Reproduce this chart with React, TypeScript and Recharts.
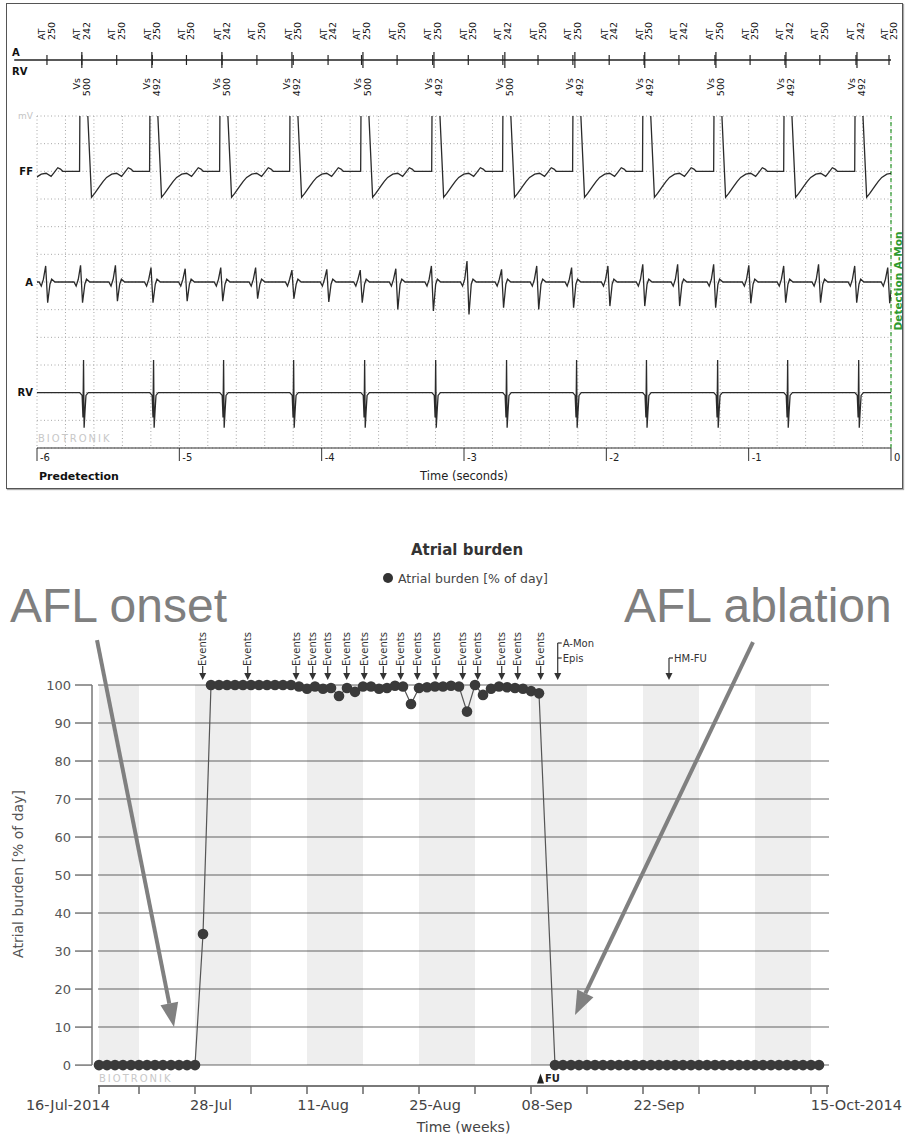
import React from 'react';
import {
  ComposedChart, Line, Scatter, XAxis, YAxis, CartesianGrid,
  ReferenceLine, ReferenceArea, ReferenceDot,
} from 'recharts';

const FONT = '"DejaVu Sans", Verdana, sans-serif';

// ---------------- ECG strip (seconds before detection) ----------------
const atrialEventTimes = [-5.93, -5.685, -5.44, -5.19, -4.95, -4.7, -4.455, -4.2, -3.955, -3.72, -3.47, -3.22, -2.97, -2.727, -2.48, -2.235, -1.98, -1.735, -1.49, -1.237, -0.99, -0.745, -0.5, -0.246, -0.014];
const atrialIntervals = [250, 242, 250, 250, 250, 242, 250, 250, 242, 250, 250, 250, 250, 242, 250, 250, 242, 250, 242, 250, 250, 242, 250, 242, 250];
// size of each atrial deflection on the A channel, grid divisions up / down
const atrialUp = [0.58, 0.6, 0.6, 0.52, 0.48, 0.52, 0.52, 0.43, 0.46, 0.43, 0.48, 0.58, 0.76, 0.46, 0.58, 0.52, 0.58, 0.64, 0.64, 0.64, 0.6, 0.58, 0.64, 0.58, 0.52];
const atrialDown = [0.75, 0.75, 0.69, 0.75, 0.69, 0.69, 0.6, 0.6, 0.72, 0.75, 0.99, 1.05, 1.17, 0.93, 0.99, 0.93, 0.87, 0.87, 0.87, 0.93, 0.77, 0.75, 0.75, 0.75, 0.77];

const ventricularEventTimes = [-5.685, -5.193, -4.701, -4.209, -3.71, -3.211, -2.713, -2.221, -1.73, -1.23, -0.738, -0.239];
const ventricularIntervals = [500, 492, 500, 492, 500, 492, 500, 492, 492, 500, 492, 492];
const beatBeforeStrip = -6.18;

// beat shapes: [seconds from event, divisions from channel baseline]
const ffShape = [[-0.03, 0], [-0.016, 0], [-0.013, 2.8], [0.035, 2.8], [0.068, -0.94], [0.09, -0.8], [0.127, -0.53], [0.15, -0.36], [0.174, -0.22], [0.21, -0.1], [0.244, -0.07], [0.279, -0.18], [0.3, -0.05], [0.326, 0.13], [0.345, 0.08], [0.361, 0]];
const aShape: [number, number | 'up' | 'down'][] = [[-0.055, 0], [-0.04, -0.15], [-0.025, 0.1], [-0.009, 'up'], [0.005, 'down'], [0.021, -0.08], [0.033, 0.1], [0.056, 0]];
const rvShape = [[-0.015, 0], [0.002, -0.1], [0.008, -0.9], [0.012, 1.18], [0.016, -1.27], [0.022, -0.7], [0.029, -0.1], [0.045, 0]];

const channelLabels: Record<number, string> = { 12: 'mV', 10: 'FF', 6: 'A', 2: 'RV' };
const channelTicks = [0, 1, 2, 3, 4, 5, 6, 7, 8, 9, 10, 11, 12];
const stripGridTicks = Array.from({ length: 31 }, (_, i) => +(-6 + i * 0.2).toFixed(1));

// ---------------- Atrial burden (days since 16-Jul-2014) ----------------
const burdenPct: (number | null)[] = [
  0, 0, 0, 0, 0, 0, 0, 0, 0, 0, 0, 0, 0,
  34.5,
  100, 100, 100, 100, 100, 100, 100, 100, 100, 100, 100, 99.6,
  99.0, 99.6, 99.0, 99.2, 97.1, 99.2, 98.2, 99.6, 99.6, 99.0, 99.2, 99.8, 99.6,
  95.0, 99.2, 99.4, 99.6, 99.6, 99.8, 99.6,
  93.0, 100, 97.4, 99.0, 99.6, 99.4, 99.2, 99.0, 98.4, 97.8,
  null,
  0, 0, 0, 0, 0, 0, 0, 0, 0, 0, 0, 0, 0, 0, 0, 0, 0,
  0, 0, 0, 0, 0, 0, 0, 0, 0, 0, 0, 0, 0, 0, 0, 0, 0,
];
const eventDays = [12.96, 18.59, 24.63, 26.71, 28.59, 30.96, 33.16, 35.54, 37.71, 39.79, 42.13, 45.46, 47.34, 50.34, 52.34, 55.21];
const aMonDay = 57.34;
const hmFuDay = 71.25;
const fuDay = 55.75;

const dateTickDays = [0, 5, 12, 19, 26, 33, 40, 47, 54, 61, 68, 75, 82, 89, 91];
const dateLabelDays = [0, 12, 26, 40, 54, 68, 91];
const dateLabels = ['16-Jul-2014', '28-Jul', '11-Aug', '25-Aug', '08-Sep', '22-Sep', '15-Oct-2014'];
const shadedWeeks = [[0, 5], [12, 19], [26, 33], [40, 47], [54, 61], [68, 75], [82, 89]];
const burdenTicks = [0, 10, 20, 30, 40, 50, 60, 70, 80, 90, 100];

// callout arrows: [from, to] in (day, %) of the chart
const onsetArrow = [{ x: -0.25, y: 111.8 }, { x: 9.375, y: 10 }];
const ablationArrow = [{ x: 81.75, y: 111.3 }, { x: 59.5, y: 13.2 }];

// ---------- build ----------
type Pt = { t: number; v: number };
const place = (times: number[], shapeFor: (i: number) => number[][], base: number): Pt[] => {
  const pts: Pt[] = [{ t: -6.3, v: base }];
  times.forEach((t0, i) => shapeFor(i).forEach(([dt, dv]) => pts.push({ t: t0 + dt, v: base + dv })));
  pts.push({ t: 0.3, v: base });
  return pts;
};
const ffTrace = place([beatBeforeStrip, ...ventricularEventTimes], () => ffShape, 10);
const aTrace = place(atrialEventTimes, (i) => aShape.map(([dt, v]) => [dt, v === 'up' ? atrialUp[i] : v === 'down' ? -atrialDown[i] : v]), 6);
const rvTrace = place(ventricularEventTimes, () => rvShape, 2);

const atrialMarks = atrialEventTimes.map((t, i) => ({ t, y: 0.5, label: atrialIntervals[i] }));
const ventricularMarks = ventricularEventTimes.map((t, i) => ({ t, y: 0.5, label: ventricularIntervals[i] }));

const burdenData = burdenPct.map((pct, day) => ({ day, pct }));
const eventData = eventDays.map((day) => ({ day, pct: 100 }));

// ---------- shapes ----------
const AtrialMark = ({ cx, cy, payload }: any) => (
  <g>
    <line x1={cx} x2={cx} y1={cy - 5} y2={cy + 5} stroke="#222" strokeWidth={1.2} />
    <text transform={`translate(${cx},${cy - 20}) rotate(-90)`} fontSize={9.5} fill="#111" fontFamily={FONT}>
      <tspan x={0} y={-1.5}>AT</tspan>
      <tspan x={0} y={8}>{payload.label}</tspan>
    </text>
  </g>
);

const VentricularMark = ({ cx, cy, payload }: any) => (
  <g>
    <line x1={cx} x2={cx} y1={cy - 8} y2={cy + 8} stroke="#222" strokeWidth={1.2} />
    <text transform={`translate(${cx},${cy + 18}) rotate(-90)`} fontSize={9.5} fill="#111" fontFamily={FONT} textAnchor="end">
      <tspan x={0} y={-1.5}>Vs</tspan>
      <tspan x={0} y={8}>{payload.label}</tspan>
    </text>
  </g>
);

const StripTimeTick = ({ x, y, payload }: any) => {
  const v = payload.value;
  if (!Number.isInteger(v)) return <g />;
  return (
    <g>
      <line x1={x} x2={x} y1={y} y2={y + 13} stroke="#333" />
      <text x={x + 3} y={y + 13} fontSize={10} fill="#222" fontFamily={FONT}>{v}</text>
    </g>
  );
};

const ChannelTick = ({ x, y, payload }: any) => {
  const label = channelLabels[payload.value];
  if (!label) return <g />;
  const mv = label === 'mV';
  return (
    <text x={x} y={y} textAnchor="end" dominantBaseline="central" fontFamily={FONT}
      fontSize={mv ? 9 : 10} fontWeight={mv ? 'normal' : 'bold'} fill={mv ? '#c4c4c4' : '#111'}>
      {label}
    </text>
  );
};

const BurdenYTick = ({ x, y, payload }: any) => (
  <g>
    <line x1={x - 23} x2={x - 6} y1={y} y2={y} stroke="#777" strokeWidth={1.5} />
    <text x={x - 27} y={y} textAnchor="end" dominantBaseline="central" fontSize={13} fill="#555" fontFamily={FONT}>
      {payload.value}
    </text>
  </g>
);

const DateTick = ({ x, y, payload }: any) => {
  const idx = dateLabelDays.indexOf(payload.value);
  if (idx < 0) return <g />;
  const last = idx === dateLabelDays.length - 1;
  const tx = idx === 0 ? x + 11 : last ? x + 75 : x + 16;
  const anchor = idx === 0 ? 'end' : last ? 'end' : 'middle';
  return (
    <text x={tx} y={y + 11} textAnchor={anchor} dominantBaseline="central" fontSize={14.5} fill="#444" fontFamily={FONT}>
      {dateLabels[idx]}
    </text>
  );
};

const EventMark = ({ cx, cy }: any) => (
  <g>
    <text transform={`translate(${cx},${cy - 19}) rotate(-90)`} fontSize={10} fill="#333" fontFamily={FONT} dominantBaseline="central">Events</text>
    <line x1={cx} x2={cx} y1={cy - 19} y2={cy - 11} stroke="#333" strokeWidth={1.2} />
    <polygon points={`${cx - 3.5},${cy - 12} ${cx + 3.5},${cy - 12} ${cx},${cy - 5}`} fill="#333" />
  </g>
);

const AMonMark = ({ cx, cy }: any) => (
  <g fontFamily={FONT} fontSize={10} fill="#333">
    <line x1={cx} x2={cx} y1={cy - 42} y2={cy - 11} stroke="#333" strokeWidth={1.2} />
    <line x1={cx} x2={cx + 4} y1={cy - 42} y2={cy - 42} stroke="#333" strokeWidth={1.2} />
    <line x1={cx} x2={cx + 4} y1={cy - 27} y2={cy - 27} stroke="#333" strokeWidth={1.2} />
    <polygon points={`${cx - 3.5},${cy - 12} ${cx + 3.5},${cy - 12} ${cx},${cy - 5}`} fill="#333" />
    <text x={cx + 5} y={cy - 42} dominantBaseline="central">A-Mon</text>
    <text x={cx + 5} y={cy - 27} dominantBaseline="central">Epis</text>
  </g>
);

const HmFuMark = ({ cx, cy }: any) => (
  <g fontFamily={FONT} fontSize={10} fill="#333">
    <line x1={cx} x2={cx} y1={cy - 27} y2={cy - 11} stroke="#333" strokeWidth={1.2} />
    <line x1={cx} x2={cx + 4} y1={cy - 27} y2={cy - 27} stroke="#333" strokeWidth={1.2} />
    <polygon points={`${cx - 3.5},${cy - 12} ${cx + 3.5},${cy - 12} ${cx},${cy - 5}`} fill="#333" />
    <text x={cx + 5} y={cy - 27} dominantBaseline="central">HM-FU</text>
  </g>
);

const FuMark = ({ cx, cy }: any) => (
  <g>
    <polygon points={`${cx - 8},${cy + 5} ${cx - 1},${cy + 5} ${cx - 4.5},${cy - 5}`} fill="#222" />
    <text x={cx} y={cy} dominantBaseline="central" fontSize={10} fontWeight="bold" fill="#222" fontFamily={FONT}>FU</text>
  </g>
);

const CalloutArrow = ({ x1, y1, x2, y2 }: any) => {
  const dx = x2 - x1, dy = y2 - y1, len = Math.hypot(dx, dy);
  const ux = dx / len, uy = dy / len;
  const hl = 24, hw = 9;
  const bx = x2 - ux * hl, by = y2 - uy * hl;
  return (
    <g>
      <line x1={x1} y1={y1} x2={bx} y2={by} stroke="#808080" strokeWidth={4} />
      <polygon points={`${x2},${y2} ${bx - uy * hw},${by + ux * hw} ${bx + uy * hw},${by - ux * hw}`} fill="#808080" />
    </g>
  );
};

export default function App() {
  return (
    <div style={{ position: 'absolute', left: 0, top: 0, width: 905, height: 1138, background: '#fff', fontFamily: FONT }}>
      {/* strip frame */}
      <div style={{ position: 'absolute', left: 6, top: 3, width: 895, height: 484, border: '1.5px solid #555', boxShadow: '1px 1px 1px #aaa' }} />

      {/* marker channel */}
      <div style={{ position: 'absolute', left: 0, top: 0 }}>
        <ComposedChart width={905} height={110} margin={{ top: 10, right: 14, bottom: 0, left: 37 }}>
          <XAxis type="number" dataKey="t" domain={[-6, 0]} hide />
          <YAxis type="number" domain={[0, 1]} hide />
          <ReferenceLine segment={[{ x: -6.16, y: 0.5 }, { x: 0, y: 0.5 }]} stroke="#222" strokeWidth={1.5} ifOverflow="visible" />
          <Scatter data={atrialMarks} dataKey="y" shape={<AtrialMark />} isAnimationActive={false} />
          <Scatter data={ventricularMarks} dataKey="y" shape={<VentricularMark />} isAnimationActive={false} />
        </ComposedChart>
      </div>

      {/* EGM channels */}
      <div style={{ position: 'absolute', left: 0, top: 100 }}>
        <ComposedChart width={905} height={388} margin={{ top: 16, right: 14, bottom: 0, left: 0 }}>
          <CartesianGrid stroke="#a8a8a8" strokeDasharray="1 2.5" />
          <XAxis type="number" dataKey="t" domain={[-6, 0]} allowDataOverflow ticks={stripGridTicks} interval={0}
            tickSize={0} tickMargin={0} tickLine={false} axisLine={{ stroke: '#333' }} height={40}
            tick={<StripTimeTick />}
            label={{ value: 'Time (seconds)', position: 'insideBottom', offset: 8, fontSize: 11.5, fill: '#222', fontFamily: FONT }} />
          <YAxis type="number" domain={[0, 12]} allowDataOverflow ticks={channelTicks} interval={0} width={37}
            tickSize={0} tickMargin={4} axisLine={false} tickLine={false} tick={<ChannelTick />} />
          <ReferenceLine x={0} stroke="#2e9a2e" strokeDasharray="4 3" strokeWidth={1.2} />
          <Line data={ffTrace} dataKey="v" type="linear" dot={false} stroke="#2b2b2b" strokeWidth={1.3} isAnimationActive={false} />
          <Line data={aTrace} dataKey="v" type="linear" dot={false} stroke="#2b2b2b" strokeWidth={1.3} isAnimationActive={false} />
          <Line data={rvTrace} dataKey="v" type="linear" dot={false} stroke="#2b2b2b" strokeWidth={1.3} isAnimationActive={false} />
        </ComposedChart>
      </div>

      {/* atrial burden */}
      <div style={{ position: 'absolute', left: 0, top: 600 }}>
        <ComposedChart width={905} height={538} data={burdenData} margin={{ top: 85, right: 76, bottom: 4, left: 0 }}>
          {shadedWeeks.map(([a, b]) => (
            <ReferenceArea key={a} x1={a} x2={b} y1={0} y2={100} fill="#000" fillOpacity={0.065} stroke="none" />
          ))}
          <CartesianGrid vertical={false} stroke="#9a9a9a" strokeWidth={1.5} />
          <XAxis type="number" dataKey="day" domain={[-0.125, 91.25]} ticks={dateTickDays} interval={0}
            tickSize={8} tickMargin={0} tickLine={{ stroke: '#666', strokeWidth: 1.5 }} axisLine={{ stroke: '#666', strokeWidth: 1.5 }}
            height={48} tick={<DateTick />}
            label={{ value: 'Time (weeks)', position: 'insideBottom', offset: 2, fontSize: 14, fill: '#444', fontFamily: FONT }} />
          <YAxis type="number" domain={[-5.5, 100]} ticks={burdenTicks} interval={0} width={98}
            tickSize={0} tickMargin={0} axisLine={false} tickLine={false} tick={<BurdenYTick />} />
          <ReferenceLine segment={[{ x: -0.875, y: 0 }, { x: -0.875, y: 100 }]} stroke="#777" strokeWidth={1.5} ifOverflow="visible" />
          <Line dataKey="pct" type="linear" connectNulls stroke="#555" strokeWidth={1.2}
            dot={{ r: 5.3, fill: '#3a3a3a', stroke: 'none' }} activeDot={false} isAnimationActive={false} />
          <Scatter data={eventData} dataKey="pct" shape={<EventMark />} isAnimationActive={false} />
          <ReferenceDot x={aMonDay} y={100} shape={(p: any) => <AMonMark {...p} />} ifOverflow="visible" />
          <ReferenceDot x={hmFuDay} y={100} shape={(p: any) => <HmFuMark {...p} />} ifOverflow="visible" />
          <ReferenceDot x={fuDay} y={-3.5} shape={(p: any) => <FuMark {...p} />} ifOverflow="visible" />
          <ReferenceLine segment={onsetArrow} ifOverflow="visible" shape={(p: any) => <CalloutArrow {...p} />} />
          <ReferenceLine segment={ablationArrow} ifOverflow="visible" shape={(p: any) => <CalloutArrow {...p} />} />
        </ComposedChart>
      </div>

      {/* static text */}
      <svg width={905} height={1138} style={{ position: 'absolute', left: 0, top: 0, pointerEvents: 'none' }} fontFamily={FONT}>
        <text x={12} y={56} fontSize={10} fontWeight="bold" fill="#111">A</text>
        <text x={12} y={75} fontSize={10} fontWeight="bold" fill="#111">RV</text>
        <text x={38} y={442} fontSize={10} fill="#c8c8c8" letterSpacing={2}>BIOTRONIK</text>
        <text x={39} y={480} fontSize={11} fontWeight="bold" fill="#111">Predetection</text>
        <text transform="translate(898,281) rotate(-90)" textAnchor="middle" dominantBaseline="central" fontSize={10.5} fontWeight="bold" fill="#2e9a2e">Detection A-Mon</text>

        <text x={467} y={555} textAnchor="middle" fontSize={15} fontWeight="bold" fill="#333">Atrial burden</text>
        <circle cx={388} cy={578} r={5} fill="#333" />
        <text x={398} y={578} dominantBaseline="central" fontSize={12.5} fill="#444">Atrial burden [% of day]</text>
        <text x={10} y={622} fontSize={48} fill="#7f7f7f" fontFamily='"Liberation Sans", Arial, sans-serif'>AFL onset</text>
        <text x={624} y={622} fontSize={48} fill="#7f7f7f" fontFamily='"Liberation Sans", Arial, sans-serif'>AFL ablation</text>
        <text transform="translate(18,874) rotate(-90)" textAnchor="middle" dominantBaseline="central" fontSize={14} fill="#555">Atrial burden [% of day]</text>
        <text x={99} y={1082} fontSize={10} fill="#c8c8c8" letterSpacing={2}>BIOTRONIK</text>
      </svg>
    </div>
  );
}
